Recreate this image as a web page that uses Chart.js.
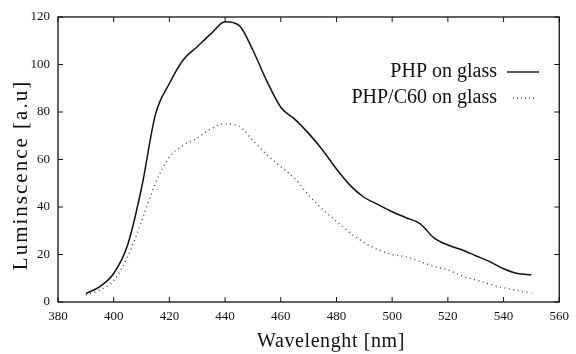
<!DOCTYPE html>
<html><head><meta charset="utf-8">
<script src="https://cdn.jsdelivr.net/npm/chart.js@4/dist/chart.umd.min.js"></script>
<style>html,body{margin:0;padding:0;background:#fff}#wrap{width:576px;height:354px}</style>
</head><body><div id="wrap"><canvas id="c" width="576" height="354"></canvas></div>
<script>
const wavelengths = [390,395,400,405,410,415,420,425,430,435,440,445,450,455,460,465,470,475,480,485,490,495,500,505,510,515,520,525,530,535,540,545,550];
const phpGlass = [3.5,6.5,12,24,48,79,92,102,107.5,113,118,116.5,106,93,82,77,71,64,56,49,44,41,38,35.5,33,27,24,22,19.5,17,14,12,11.5];
const phpC60Glass = [3,5,9,19,34,50,61,66,69,73,75,74,68,62,57,52,45,39,34,29,25,22,20,19,17,15,13.5,11,9.3,7.5,6,4.8,3.8];
const seriesLabels = ["PHP on glass","PHP/C60 on glass"];
const xTicks = [380,400,420,440,460,480,500,520,540,560];
const yTicks = [0,20,40,60,80,100,120];
const xTitle = "Wavelenght [nm]";
const yTitle = "Luminscence [a.u]";

const serif = "'Liberation Serif','DejaVu Serif',serif";
const ink = "#111";

const frame = {
  id:'frame',
  afterDraw(chart){
    const {ctx, chartArea:a, scales:{x,y}} = chart;
    ctx.save();
    ctx.strokeStyle = ink; ctx.lineWidth = 1.3;
    ctx.strokeRect(a.left, a.top, a.right-a.left, a.bottom-a.top);
    ctx.lineWidth = 1;
    const t = 5;
    xTicks.forEach(v=>{const px=x.getPixelForValue(v);
      ctx.beginPath();ctx.moveTo(px,a.bottom);ctx.lineTo(px,a.bottom-t);
      ctx.moveTo(px,a.top);ctx.lineTo(px,a.top+t);ctx.stroke();});
    yTicks.forEach(v=>{const py=y.getPixelForValue(v);
      ctx.beginPath();ctx.moveTo(a.left,py);ctx.lineTo(a.left+t,py);
      ctx.moveTo(a.right,py);ctx.lineTo(a.right-t,py);ctx.stroke();});
    // legend
    ctx.font = "20px "+serif; ctx.fillStyle = ink;
    ctx.textAlign='right'; ctx.textBaseline='middle';
    const lx = 497, ly = [72, 98];
    seriesLabels.forEach((lab,i)=>{
      ctx.fillText(lab, lx, ly[i]);
      ctx.beginPath();
      ctx.lineWidth = i===0?1.4:1.3;
      ctx.strokeStyle = i===0?ink:'#555';
      ctx.setLineDash(i===0?[]:[1,3]);
      if(i===0){ctx.moveTo(507, ly[i]); ctx.lineTo(539, ly[i]);}
      else {ctx.moveTo(513, ly[i]); ctx.lineTo(534, ly[i]);}
      ctx.stroke();
    });
    ctx.setLineDash([]);
    // axis titles
    ctx.textAlign='center'; ctx.textBaseline='alphabetic';
    ctx.font = "20px "+serif;
    ctx.letterSpacing = "0.6px";
    ctx.fillText(xTitle, 331, 347);
    ctx.save();
    ctx.translate(27, 175);
    ctx.rotate(-Math.PI/2);
    ctx.font = "21px "+serif;
    ctx.letterSpacing = "2px";
    ctx.fillText(yTitle, 0, 0);
    ctx.restore();
    ctx.letterSpacing = "0px";
    ctx.restore();
  }
};

new Chart(document.getElementById('c'), {
  type:'line',
  data:{datasets:[
    {label:seriesLabels[0], data:wavelengths.map((w,i)=>({x:w,y:phpGlass[i]})),
     borderColor:ink, borderWidth:1.5, pointRadius:0, cubicInterpolationMode:'monotone', fill:false},
    {label:seriesLabels[1], data:wavelengths.map((w,i)=>({x:w,y:phpC60Glass[i]})),
     borderColor:'#444', borderWidth:1.4, borderDash:[1,3.5], pointRadius:0, cubicInterpolationMode:'monotone', fill:false}
  ]},
  options:{
    responsive:false, animation:false, devicePixelRatio:1,
    layout:{padding:{left:0,right:12,top:17,bottom:0}},
    plugins:{legend:{display:false}, tooltip:{enabled:false}},
    scales:{
      x:{type:'linear', min:380, max:560,
        afterFit(s){s.height=52;},
        afterBuildTicks(s){s.ticks = xTicks.map(v=>({value:v}));},
        grid:{display:false, drawTicks:false}, border:{display:false},
        ticks:{color:ink, font:{family:serif, size:13}, padding:7, maxRotation:0, autoSkip:false},
        title:{display:false, text:xTitle}
      },
      y:{type:'linear', min:0, max:120,
        afterFit(s){s.width=58;},
        afterBuildTicks(s){s.ticks = yTicks.map(v=>({value:v}));},
        grid:{display:false, drawTicks:false}, border:{display:false},
        ticks:{color:ink, font:{family:serif, size:13}, padding:8, autoSkip:false},
        title:{display:false, text:yTitle}
      }
    }
  },
  plugins:[frame]
});
</script></body></html>
